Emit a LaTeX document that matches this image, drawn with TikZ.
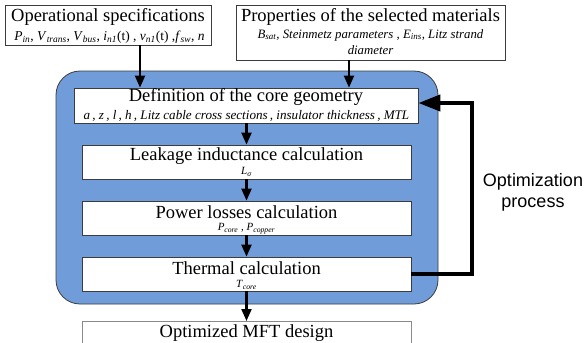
\documentclass[tikz,border=0pt]{standalone}
\usepackage{fontspec}
\setmainfont{Liberation Serif}
\newfontfamily\arialfont{Liberation Sans}
\usetikzlibrary{arrows.meta,positioning}
\definecolor{blueregion}{RGB}{112,157,217}
\definecolor{boxline}{RGB}{60,60,60}
\newcommand{\vsub}[2]{\textit{#1}\textsubscript{\textit{#2}}}
\tikzset{
  box/.style={draw=boxline, line width=0.8pt, fill=white, inner sep=0pt, align=center},
  titlefont/.style={font=\fontsize{18.5}{20}\selectfont},
  subfont/.style={font=\fontsize{12.8}{14}\selectfont\itshape},
  labtext/.style={inner sep=0pt, anchor=center},
  flow/.style={line width=2.2pt, -{Triangle[length=12pt,width=10pt]}},
  feedback/.style={line width=4pt, -{Triangle[length=22pt,width=16pt]}},
}
\begin{document}
\begin{tikzpicture}[x=1pt,y=-1pt]
\useasboundingbox (0,0) rectangle (587,343);
% blue region
\node[draw=boxline, line width=0.8pt, fill=blueregion, rounded corners=24pt,
  minimum width=382pt, minimum height=233pt, inner sep=0pt] (region) at (247,187.5) {};
% top boxes
\node[box, minimum width=206pt, minimum height=40pt] (ops) at (108,25) {};
\node[labtext, titlefont] (opsT) at (108,17) {Operational specifications};
\node[labtext, font=\fontsize{13.5}{15}\selectfont] (opsS) at (109.5,37)
  {\vsub{P}{in}, \vsub{V}{trans}, \vsub{V}{bus}, \vsub{i}{n1}(t) , \vsub{v}{n1}(t) ,\vsub{f}{sw}, \textit{n}};
\node[box, minimum width=269pt, minimum height=55pt] (mat) at (370.5,32.5) {};
\node[labtext, titlefont] (matT) at (370.5,17) {Properties of the selected materials};
\node[labtext, subfont] (matS1) at (370.5,35) {\vsub{B}{sat}, Steinmetz parameters , \vsub{E}{ins}, Litz strand};
\node[labtext, subfont] (matS2) at (370.5,50) {diameter};
% inner boxes
\node[box, minimum width=344pt, minimum height=35pt] (def) at (246,105.5) {};
\node[labtext, titlefont] (defT) at (246,97) {Definition of the core geometry};
\node[labtext, font=\fontsize{13.1}{15}\selectfont\itshape] (defS) at (246.5,115.5) {a\,, z\,, l\,, h\,, Litz cable cross sections\,, insulator thickness\,, MTL};
\node[box, minimum width=329pt, minimum height=34pt] (leak) at (246.5,162) {};
\node[labtext, titlefont] (leakT) at (246.5,156) {Leakage inductance calculation};
\node[labtext, font=\fontsize{11}{12}\selectfont] (leakS) at (246.5,172) {\vsub{L}{σ}};
\node[box, minimum width=329pt, minimum height=34pt] (pow) at (246.5,218) {};
\node[labtext, titlefont] (powT) at (246.5,212) {Power losses calculation};
\node[labtext, font=\fontsize{11}{12}\selectfont] (powS) at (246.5,229) {\vsub{P}{core} , \vsub{P}{copper}};
\node[box, minimum width=329pt, minimum height=34pt] (therm) at (246.5,274) {};
\node[labtext, titlefont] (thermT) at (246.5,268) {Thermal calculation};
\node[labtext, font=\fontsize{11}{12}\selectfont] (thermS) at (246.5,285) {\vsub{T}{core}};
\node[box, draw=boxline!60, minimum width=329pt, minimum height=34pt, anchor=north] (opt) at (246.5,321) {};
\node[labtext, titlefont] (optT) at (246.5,333) {Optimized MFT design};
% label
\node[labtext, align=center, font=\arialfont\fontsize{18}{21}\selectfont] (optlab) at (533,192) {Optimization\\process};
% arrows
\draw[flow] (ops.south -| 140,0) -- (def.north -| 140,0);
\draw[flow] (mat.south -| 349,0) -- (def.north -| 349,0);
\draw[flow] (def.south -| leak.center) -- (leak.north);
\draw[flow] (leak.south) -- (pow.north);
\draw[flow] (pow.south) -- (therm.north);
\draw[flow] (therm.south) -- (opt.north);
\coordinate (fbtop) at (472,103);
\draw[feedback] (therm.east) -| (fbtop) -- (def.east |- fbtop);
\end{tikzpicture}
\end{document}
